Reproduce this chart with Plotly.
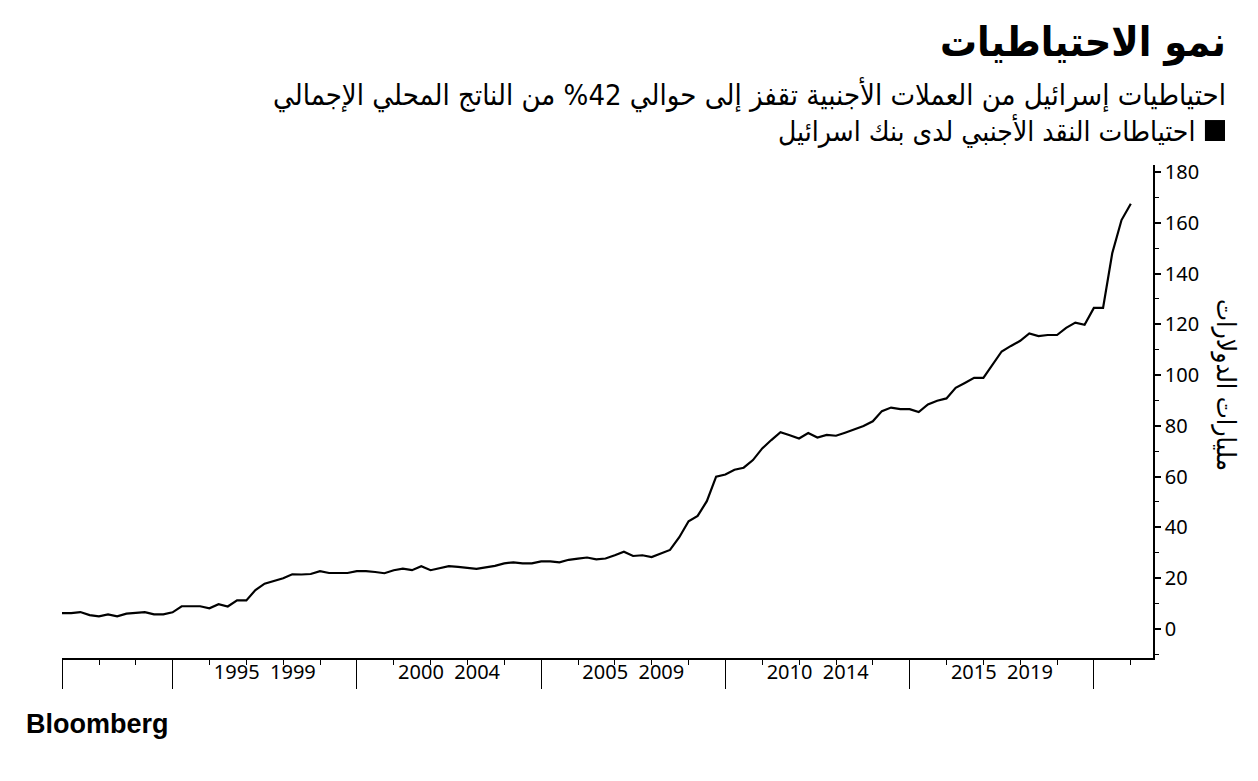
import pandas as pd
import plotly.graph_objects as go

# ---- data (quarter-end values, USD bn) ----
start_date = "1991-12-31"
reserves = [
    6.2, 6.2, 6.6, 5.4, 4.9, 5.7, 4.9, 6.0, 6.3, 6.6,
    5.7, 5.7, 6.5, 8.9, 8.9, 8.9, 8.1, 9.7, 8.8, 11.2,
    11.2, 15.3, 17.8, 18.9, 19.9, 21.5, 21.4, 21.6, 22.7, 22.0,
    22.0, 22.0, 22.7, 22.7, 22.4, 21.9, 23.1, 23.7, 23.1, 24.7,
    23.1, 23.8, 24.7, 24.4, 24.0, 23.6, 24.2, 24.8, 25.8, 26.2,
    25.8, 25.8, 26.6, 26.6, 26.2, 27.2, 27.7, 28.1, 27.4, 27.7,
    29.0, 30.4, 28.7, 29.0, 28.3, 29.7, 31.1, 36.1, 42.4, 44.5,
    50.3, 60.0, 60.8, 62.7, 63.5, 66.5, 71.1, 74.4, 77.5, 76.3,
    75.0, 77.2, 75.4, 76.4, 76.1, 77.3, 78.5, 79.9, 81.8, 85.8,
    87.2, 86.6, 86.6, 85.4, 88.4, 89.9, 90.8, 95.0, 96.9, 98.9,
    98.9, 104.0, 109.3, 111.5, 113.5, 116.4, 115.4, 115.8, 115.8, 118.6,
    120.7, 119.8, 126.5, 126.5, 148.0, 161.1, 167.5,
]
dates = pd.date_range(start_date, periods=len(reserves), freq=pd.offsets.QuarterEnd())

major_years = [1992, 1995, 2000, 2005, 2010, 2015, 2020]
label_mid_dates = ["1997-07-02", "2002-07-02", "2007-07-02", "2012-07-02", "2017-07-02"]
label_texts = ["1995\u00a0\u00a01999", "2000\u00a0\u00a02004", "2005\u00a0\u00a02009",
               "2010\u00a0\u00a02014", "2015\u00a0\u00a02019"]
y_ticks = [0, 20, 40, 60, 80, 100, 120, 140, 160, 180]

title_text = "نمو الاحتياطيات"
subtitle_text = "احتياطيات إسرائيل من العملات الأجنبية تقفز إلى حوالي 42% من الناتج المحلي الإجمالي"
legend_text = "احتياطات النقد الأجنبي لدى بنك اسرائيل"
y_title = "مليارات الدولارات"

x_range = ["1991-12-31", "2021-08-08"]
y_range = [-11.5, 182.8]

arabic_font = "DejaVu Sans Condensed, DejaVu Sans"
num_font = "Noto Sans"

fig = go.Figure()
fig.add_trace(go.Scatter(
    x=dates, y=reserves, mode="lines",
    line=dict(color="#000000", width=2.2),
    showlegend=False, hoverinfo="skip",
))
# invisible traces to activate the overlay axes (labels / long ticks)
for ax in ("x2", "x3"):
    fig.add_trace(go.Scatter(x=[dates[0]], y=[reserves[0]], xaxis=ax, mode="markers",
                             marker=dict(opacity=0), showlegend=False, hoverinfo="skip"))

major_vals = [f"{y}-01-01" for y in major_years]
year_vals = [f"{y}-01-01" for y in range(1992, 2022)]

fig.update_layout(
    width=1258, height=781, autosize=False,
    margin=dict(l=62, r=105, t=165, b=123),
    paper_bgcolor="white", plot_bgcolor="white",
    xaxis=dict(
        type="date", range=x_range,
        tickmode="array", tickvals=year_vals, showticklabels=False,
        ticks="outside", ticklen=5, tickwidth=1, tickcolor="#000",
        showline=True, linecolor="#000", linewidth=1.5,
        showgrid=False, zeroline=False,
    ),
    xaxis3=dict(
        type="date", range=x_range, overlaying="x", anchor="y", side="bottom",
        tickmode="array", tickvals=major_vals, ticktext=[" "] * len(major_vals),
        ticks="outside", ticklen=30, tickwidth=1, tickcolor="#000",
        showline=False, showgrid=False, zeroline=False,
        tickfont=dict(family=num_font, size=4, color="#fff"),
    ),
    xaxis2=dict(
        type="date", range=x_range, overlaying="x", anchor="y", side="bottom",
        tickmode="array", tickvals=label_mid_dates, ticktext=label_texts,
        ticks="", showline=False, showgrid=False, zeroline=False,
        tickfont=dict(family=num_font, size=20, color="#000"),
        ticklabelstandoff=0,
    ),
    yaxis=dict(
        side="right", range=y_range,
        tickmode="array", tickvals=y_ticks,
        ticks="outside", ticklen=6, tickwidth=2, tickcolor="#000",
        minor=dict(dtick=10, tick0=0, ticks="outside", ticklen=4, tickwidth=1,
                   tickcolor="#000", showgrid=False),
        showline=True, linecolor="#000", linewidth=1.5,
        showgrid=False, zeroline=False,
        tickfont=dict(family=num_font, size=20, color="#000"),
    ),
    shapes=[dict(type="rect", xref="paper", yref="paper",
                 x0=1.0476, x1=1.0660, y0=1.0487, y1=1.0912,
                 fillcolor="#000", line=dict(width=0))],
    annotations=[
        dict(text=title_text, xref="paper", yref="paper", x=1.0687, y=1.2495,
             xanchor="right", yanchor="middle", showarrow=False,
             font=dict(family=arabic_font, size=41, color="#000", weight="bold")),
        dict(text=subtitle_text, xref="paper", yref="paper", x=1.0687, y=1.144,
             xanchor="right", yanchor="middle", showarrow=False,
             font=dict(family=arabic_font, size=29, color="#000")),
        dict(text=legend_text, xref="paper", yref="paper", x=1.0403, y=1.069,
             xanchor="right", yanchor="middle", showarrow=False,
             font=dict(family=arabic_font, size=28, color="#000")),
        dict(text=y_title, xref="paper", yref="paper", x=1.0660, y=0.5538,
             xanchor="center", yanchor="middle", showarrow=False, textangle=90,
             font=dict(family=arabic_font, size=26, color="#000")),
        dict(text="Bloomberg", xref="paper", yref="paper", x=-0.0348, y=-0.1339,
             xanchor="left", yanchor="middle", showarrow=False,
             font=dict(family="Liberation Sans", size=27, color="#000", weight="bold")),
    ],
)

fig.write_html("out.html")
